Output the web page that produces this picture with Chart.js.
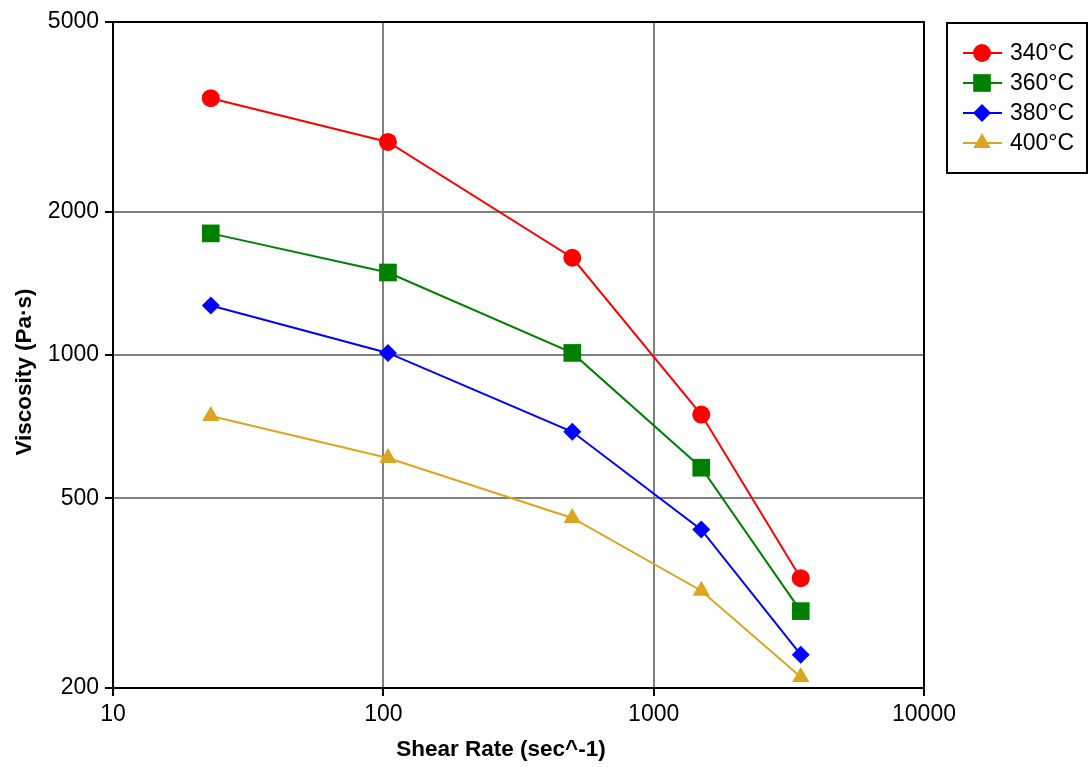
<!DOCTYPE html>
<html>
<head>
<meta charset="utf-8">
<script src="https://cdn.jsdelivr.net/npm/chart.js@4.4.1/dist/chart.umd.min.js"></script>
<style>
  html, body { margin: 0; padding: 0; background: #fff; }
  #wrap { width: 1090px; height: 767px; }
</style>
</head>
<body>
<div id="wrap"><canvas id="visc"></canvas></div>
<script>
// shear rate (sec^-1) and viscosity (Pa·s) per melt temperature
const shearRate = [23, 104, 500, 1500, 3500];
const visc340 = [3460, 2800, 1600, 750, 340];
const visc360 = [1800, 1490, 1010, 580, 290];
const visc380 = [1270, 1010, 690, 430, 235];
const visc400 = [745, 608, 455, 320, 211];

const seriesLabels = ["340°C", "360°C", "380°C", "400°C"];
const xTicks = [10, 100, 1000, 10000];
const yTicks = [200, 500, 1000, 2000, 5000];

const FONT = "'Liberation Sans', Arial, sans-serif";

function pts(ys) {
  return shearRate.map((x, i) => ({ x: x, y: ys[i] }));
}

// frame, axis titles and boxed legend
const extras = {
  id: "extras",
  afterDraw(chart) {
    const ctx = chart.ctx;
    const a = chart.chartArea;
    ctx.save();
    ctx.strokeStyle = "#000";
    ctx.lineWidth = 2;
    ctx.strokeRect(a.left, a.top, a.right - a.left, a.bottom - a.top);

    ctx.fillStyle = "#000";
    ctx.font = "bold 22.5px " + FONT;
    ctx.textAlign = "center";
    ctx.textBaseline = "middle";
    ctx.fillText("Shear Rate (sec^-1)", 501, 750);
    ctx.translate(25, 372);
    ctx.rotate(-Math.PI / 2);
    ctx.fillText("Viscosity (Pa·s)", 0, 0);
    ctx.restore();

    // legend
    ctx.save();
    ctx.strokeStyle = "#000";
    ctx.lineWidth = 2;
    ctx.strokeRect(947, 23, 140, 150);
    ctx.font = "23px " + FONT;
    ctx.textAlign = "left";
    ctx.textBaseline = "middle";
    chart.data.datasets.forEach((ds, i) => {
      const y = 53 + i * 30;
      ctx.strokeStyle = ds.borderColor;
      ctx.lineWidth = 2;
      ctx.beginPath();
      ctx.moveTo(963, y);
      ctx.lineTo(1002, y);
      ctx.stroke();
      ctx.fillStyle = ds.pointBackgroundColor;
      ctx.strokeStyle = ds.pointBackgroundColor;
      Chart.helpers.drawPoint(ctx, { pointStyle: ds.pointStyle, radius: ds.pointRadius, rotation: 0, borderWidth: 0 }, 982, y);
      ctx.fillStyle = "#000";
      ctx.fillText(ds.label, 1010, y + 1);
    });
    ctx.restore();
  }
};

function series(label, ys, color, style, r) {
  return {
    label: label,
    data: pts(ys),
    borderColor: color,
    backgroundColor: color,
    pointBackgroundColor: color,
    pointBorderColor: color,
    pointBorderWidth: 0,
    pointStyle: style,
    pointRadius: r,
    pointHoverRadius: r,
    borderWidth: 2,
    tension: 0,
    fill: false
  };
}

new Chart("visc", {
  type: "line",
  data: {
    datasets: [
      series(seriesLabels[0], visc340, "#ff0000", "circle", 9),
      series(seriesLabels[1], visc360, "#008000", "rect", 12.5),
      series(seriesLabels[2], visc380, "#0000ff", "rectRot", 9),
      series(seriesLabels[3], visc400, "#daa520", "triangle", 10)
    ]
  },
  options: {
    responsive: true,
    maintainAspectRatio: false,
    animation: false,
    layout: { padding: { top: 22, right: 166, left: 0, bottom: 0 } },
    plugins: {
      legend: { display: false },
      tooltip: { enabled: false }
    },
    scales: {
      x: {
        type: "logarithmic",
        min: 10,
        max: 10000,
        afterBuildTicks: (s) => { s.ticks = xTicks.map(v => ({ value: v })); },
        afterFit: (s) => { s.height = 79; },
        ticks: {
          callback: (v) => String(v),
          color: "#000",
          font: { family: FONT, size: 23 },
          padding: 5,
          maxRotation: 0,
          autoSkip: false
        },
        grid: { color: "#808080", lineWidth: 2, tickColor: "#000", tickLength: 8, tickWidth: 2 },
        border: { display: true, color: "#000", width: 2 }
      },
      y: {
        type: "logarithmic",
        min: 200,
        max: 5000,
        afterBuildTicks: (s) => { s.ticks = yTicks.map(v => ({ value: v })); },
        afterFit: (s) => { s.width = 113; },
        ticks: {
          callback: (v) => String(v),
          color: "#000",
          font: { family: FONT, size: 23 },
          padding: 6,
          autoSkip: false
        },
        grid: { color: "#808080", lineWidth: 2, tickColor: "#000", tickLength: 8, tickWidth: 2 },
        border: { display: true, color: "#000", width: 2 }
      }
    }
  },
  plugins: [extras]
});
</script>
</body>
</html>
